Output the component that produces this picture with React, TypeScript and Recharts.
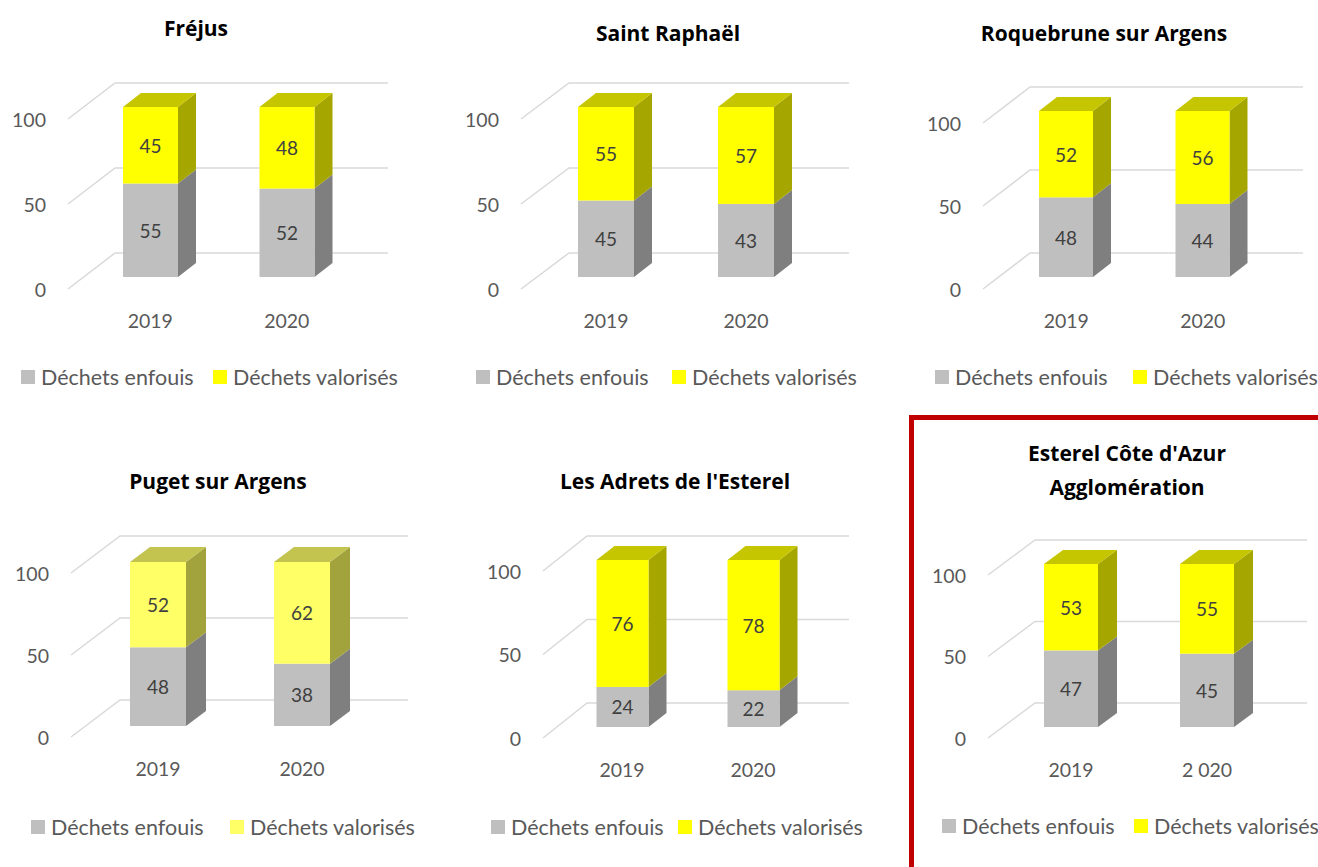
import React from 'react';
import { BarChart, Bar, XAxis, YAxis, CartesianGrid } from 'recharts';

// ---------- DATA ----------
const years = ['2019', '2020'];
const yearsEsterel = ['2019', '2 020'];
const seriesNames = ['Déchets enfouis', 'Déchets valorisés'];
const yTicks = [0, 50, 100];

const frejusEnfouis = [55, 52];
const frejusValorises = [45, 48];
const saintRaphaelEnfouis = [45, 43];
const saintRaphaelValorises = [55, 57];
const roquebruneEnfouis = [48, 44];
const roquebruneValorises = [52, 56];
const pugetEnfouis = [48, 38];
const pugetValorises = [52, 62];
const adretsEnfouis = [24, 22];
const adretsValorises = [76, 78];
const esterelEnfouis = [47, 45];
const esterelValorises = [53, 55];

// ---------- STYLE ----------
const FONT = 'Lato, "Open Sans", sans-serif';
const TITLE_FONT = '"Open Sans", Lato, sans-serif';
const AXIS_W = 60;
const XAXIS_H = 50;
const M_TOP = 50;
const M_RIGHT = 70;

const GRAY = { front: '#BFBFBF', side: '#7F7F7F', top: '#A6A6A6' };
const YELLOW = { front: '#FFFF00', side: '#A6A600', top: '#C6C600' };
const YELLOW_LIGHT = { front: '#FFFF66', side: '#A3A33E', top: '#C3C350' };

type Cfg = {
  titles: string[];
  titleX: number;
  titleY: number;
  x0: number; x1: number; y100: number; y0: number;
  backDx: number; backDy: number;
  barW: number; offX: number; offY: number; sideDx: number; sideDy: number;
  legY: number; leg1: number; leg2: number;
  yellow: typeof YELLOW;
};

function Box3D(props: any) {
  const { x, y, width, height, colors, cfg, isTop, value } = props;
  if (width == null || height == null || isNaN(x) || isNaN(y)) return null;
  const fx = x + cfg.offX;
  const fy = y + cfg.offY;
  const w = width;
  const h = height;
  const sdx = cfg.sideDx;
  const sdy = cfg.sideDy;
  const side = `M${fx + w},${fy} L${fx + w + sdx},${fy + sdy} L${fx + w + sdx},${fy + h + sdy} L${fx + w},${fy + h} Z`;
  const top = `M${fx},${fy} L${fx + sdx},${fy + sdy} L${fx + w + sdx},${fy + sdy} L${fx + w},${fy} Z`;
  return (
    <g>
      <path d={side} fill={colors.side} />
      {isTop && <path d={top} fill={colors.top} />}
      <rect x={fx} y={fy} width={w} height={h} fill={colors.front} />
      <text
        x={fx + w / 2}
        y={fy + h / 2}
        textAnchor="middle"
        dominantBaseline="central"
        fontFamily={FONT}
        fontSize={19}
        fill="#404040"
      >
        {value}
      </text>
    </g>
  );
}

function Panel({ cfg, cats, enf, val }: { cfg: Cfg; cats: string[]; enf: number[]; val: number[] }) {
  const data = cats.map((c, i) => ({ year: c, enfouis: enf[i], valorises: val[i] }));
  const plotW = cfg.x1 - cfg.x0;
  const plotH = cfg.y0 - cfg.y100;
  const W = AXIS_W + plotW + M_RIGHT;
  const H = M_TOP + plotH + XAXIS_H;
  const left = cfg.x0 - AXIS_W;
  const top = cfg.y100 - M_TOP;

  const gridLine = (p: any) => {
    const d = `M${p.x1},${p.y1} L${p.x1 + cfg.backDx},${p.y1 + cfg.backDy} L${p.x2 + cfg.backDx},${p.y2 + cfg.backDy}`;
    return <path key={p.key ?? `g${p.index}`} d={d} stroke="#D9D9D9" strokeWidth={1.5} fill="none" />;
  };

  const XTick = (p: any) => (
    <text
      x={p.x + cfg.offX}
      y={M_TOP + plotH + 31}
      textAnchor="middle"
      dominantBaseline="central"
      fontFamily={FONT}
      fontSize={19.5}
      fill="#595959"
    >
      {p.payload.value}
    </text>
  );
  const YTick = (p: any) => (
    <text
      x={AXIS_W - 22}
      y={p.y}
      textAnchor="end"
      dominantBaseline="central"
      fontFamily={FONT}
      fontSize={19.5}
      fill="#595959"
    >
      {p.payload.value}
    </text>
  );

  return (
    <>
      <div
        style={{
          position: 'absolute',
          left: cfg.titleX - 200,
          top: cfg.titleY - 17,
          width: 400,
          textAlign: 'center',
          fontFamily: TITLE_FONT,
          fontWeight: 700,
          fontSize: 21,
          lineHeight: '34px',
          color: '#000',
        }}
      >
        {cfg.titles.map((t) => (
          <div key={t}>{t}</div>
        ))}
      </div>
      <div style={{ position: 'absolute', left, top }}>
        <BarChart
          width={W}
          height={H}
          data={data}
          margin={{ top: M_TOP, right: M_RIGHT, left: 0, bottom: 0 }}
          barSize={cfg.barW}
        >
          <CartesianGrid vertical={false} horizontal={gridLine} />
          <XAxis dataKey="year" axisLine={false} tickLine={false} height={XAXIS_H} interval={0} tick={<XTick />} />
          <YAxis
            domain={[0, 100]}
            ticks={yTicks}
            axisLine={false}
            tickLine={false}
            width={AXIS_W}
            tick={<YTick />}
          />
          <Bar
            dataKey="enfouis"
            name={seriesNames[0]}
            stackId="a"
            fill={GRAY.front}
            isAnimationActive={false}
            shape={(p: any) => <Box3D {...p} value={p.payload.enfouis} colors={GRAY} cfg={cfg} isTop={false} />}
          />
          <Bar
            dataKey="valorises"
            name={seriesNames[1]}
            stackId="a"
            fill={cfg.yellow.front}
            isAnimationActive={false}
            shape={(p: any) => <Box3D {...p} value={p.payload.valorises} colors={cfg.yellow} cfg={cfg} isTop={true} />}
          />
        </BarChart>
      </div>
      {[cfg.leg1, cfg.leg2].map((lx, i) => (
        <div
          key={i}
          style={{
            position: 'absolute',
            left: lx,
            top: cfg.legY - 13,
            height: 26,
            display: 'flex',
            alignItems: 'center',
            fontFamily: FONT,
            fontSize: 21.5,
            color: '#595959',
            whiteSpace: 'nowrap',
          }}
        >
          <span
            style={{
              display: 'inline-block',
              width: 14,
              height: 14,
              background: i === 0 ? GRAY.front : cfg.yellow.front,
              marginRight: 6,
            }}
          />
          <span>{seriesNames[i]}</span>
        </div>
      ))}
    </>
  );
}

const P1: Cfg = {
  titles: ['Fréjus'], titleX: 196, titleY: 28,
  x0: 68, x1: 341, y100: 119, y0: 289, backDx: 47, backDy: -36,
  barW: 55, offX: 14, offY: -12, sideDx: 18, sideDy: -14,
  legY: 377, leg1: 21, leg2: 213, yellow: YELLOW,
};
const P2: Cfg = {
  titles: ['Saint Raphaël'], titleX: 668, titleY: 33,
  x0: 521, x1: 801, y100: 119, y0: 289, backDx: 48, backDy: -36,
  barW: 56, offX: 15, offY: -12, sideDx: 18, sideDy: -14,
  legY: 377, leg1: 476, leg2: 672, yellow: YELLOW,
};
const P3: Cfg = {
  titles: ['Roquebrune sur Argens'], titleX: 1104, titleY: 33,
  x0: 983, x1: 1256, y100: 123, y0: 289, backDx: 47, backDy: -36,
  barW: 54, offX: 15, offY: -12, sideDx: 18, sideDy: -14,
  legY: 377, leg1: 935, leg2: 1133, yellow: YELLOW,
};
const P4: Cfg = {
  titles: ['Puget sur Argens'], titleX: 218, titleY: 481,
  x0: 71, x1: 359, y100: 573, y0: 737, backDx: 49, backDy: -37,
  barW: 56, offX: 15, offY: -11, sideDx: 20, sideDy: -15,
  legY: 827, leg1: 31, leg2: 230, yellow: YELLOW_LIGHT,
};
const P5: Cfg = {
  titles: ["Les Adrets de l'Esterel"], titleX: 675, titleY: 481,
  x0: 543, x1: 805, y100: 571, y0: 738, backDx: 44, backDy: -35,
  barW: 52, offX: 13.5, offY: -11, sideDx: 18, sideDy: -14,
  legY: 827, leg1: 491, leg2: 678, yellow: YELLOW,
};
const P6: Cfg = {
  titles: ["Esterel Côte d'Azur", 'Agglomération'], titleX: 1127, titleY: 453,
  x0: 988, x1: 1260, y100: 575, y0: 738, backDx: 47, backDy: -35,
  barW: 54, offX: 15, offY: -11, sideDx: 19, sideDy: -14,
  legY: 826, leg1: 942, leg2: 1134, yellow: YELLOW,
};

export default function App() {
  return (
    <div
      style={{
        position: 'absolute',
        left: 0,
        top: 0,
        width: 1318,
        height: 867,
        background: '#fff',
        overflow: 'hidden',
      }}
    >
      <div
        style={{
          position: 'absolute',
          left: 909,
          top: 415,
          width: 600,
          height: 600,
          border: '5px solid #C00000',
          boxSizing: 'border-box',
        }}
      />
      <Panel cfg={P1} cats={years} enf={frejusEnfouis} val={frejusValorises} />
      <Panel cfg={P2} cats={years} enf={saintRaphaelEnfouis} val={saintRaphaelValorises} />
      <Panel cfg={P3} cats={years} enf={roquebruneEnfouis} val={roquebruneValorises} />
      <Panel cfg={P4} cats={years} enf={pugetEnfouis} val={pugetValorises} />
      <Panel cfg={P5} cats={years} enf={adretsEnfouis} val={adretsValorises} />
      <Panel cfg={P6} cats={yearsEsterel} enf={esterelEnfouis} val={esterelValorises} />
    </div>
  );
}
